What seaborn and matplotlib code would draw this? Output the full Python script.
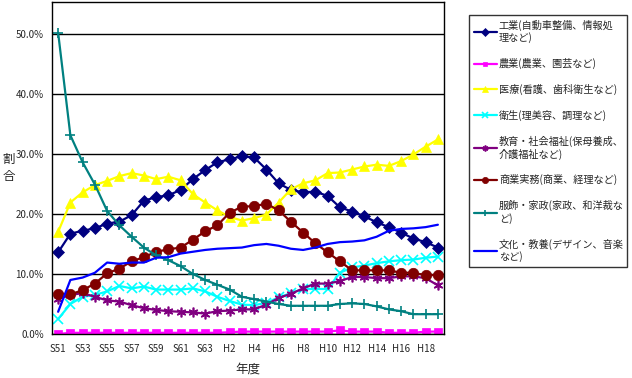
import numpy as np  # Para manejo de arreglos
import pandas as pd  # Para manejo de dataframes
import matplotlib  # Backend sin pantalla
matplotlib.use("Agg")
import matplotlib.pyplot as plt  # Para gráficos
import seaborn as sns  # Para gráficos estadísticos

# ------------------- DATOS (en %) -------------------
categorias = ["S51", "S52", "S53", "S54", "S55", "S56", "S57", "S58", "S59", "S60",
              "S61", "S62", "S63", "H1", "H2", "H3", "H4", "H5", "H6", "H7", "H8",
              "H9", "H10", "H11", "H12", "H13", "H14", "H15", "H16", "H17", "H18", "H19"]

industria = [13.6, 16.7, 17.2, 17.6, 18.4, 18.7, 19.8, 22.2, 22.8, 23.1, 24.0, 25.8,
             27.3, 28.6, 29.1, 29.6, 29.4, 27.4, 25.1, 24.0, 23.6, 23.7, 23.0, 21.1,
             20.4, 19.6, 18.6, 17.8, 16.9, 15.9, 15.3, 14.4]
agricultura = [0.0, 0.2, 0.2, 0.2, 0.2, 0.2, 0.2, 0.2, 0.2, 0.2, 0.2, 0.2, 0.2, 0.2,
               0.3, 0.4, 0.4, 0.4, 0.4, 0.4, 0.4, 0.4, 0.4, 0.6, 0.4, 0.4, 0.4, 0.2,
               0.2, 0.2, 0.4, 0.4]
medicina = [17.0, 21.9, 23.6, 24.8, 25.5, 26.3, 26.8, 26.4, 25.8, 26.2, 25.6, 23.3,
            21.9, 20.6, 19.5, 18.9, 19.3, 19.9, 21.9, 24.1, 25.1, 25.6, 26.8, 26.9,
            27.4, 27.9, 28.2, 28.0, 28.8, 29.9, 31.2, 32.4]
higiene = [2.5, 5.0, 6.2, 6.5, 7.1, 8.0, 7.6, 7.9, 7.4, 7.4, 7.4, 7.6, 7.1, 6.2, 5.5,
           4.9, 4.8, 5.2, 6.1, 6.8, 7.5, 7.5, 7.5, 10.2, 11.1, 11.4, 11.8, 12.1, 12.3,
           12.4, 12.7, 12.9]
educacion = [5.8, 6.5, 6.8, 6.2, 5.6, 5.4, 4.8, 4.3, 4.0, 3.8, 3.7, 3.6, 3.4, 3.8, 3.9,
             4.1, 4.1, 4.9, 6.0, 6.7, 7.6, 8.4, 8.4, 8.8, 9.5, 9.5, 9.3, 9.3, 9.6, 9.6,
             9.3, 8.1]
comercio = [6.7, 6.6, 7.3, 8.4, 10.1, 10.9, 12.1, 12.8, 13.7, 14.1, 14.4, 15.7, 17.1,
            18.1, 20.2, 21.2, 21.3, 21.7, 20.6, 18.7, 16.9, 15.1, 13.6, 12.1, 10.6,
            10.6, 10.6, 10.6, 10.2, 10.2, 9.8, 9.8]
confeccion = [50.2, 33.1, 28.6, 24.9, 20.5, 18.1, 16.2, 14.4, 13.1, 12.3, 11.3, 10.0,
              9.0, 8.2, 7.4, 6.2, 5.8, 5.4, 5.0, 4.7, 4.7, 4.7, 4.7, 5.0, 5.1, 5.0,
              4.6, 4.1, 3.8, 3.3, 3.3, 3.3]
cultura = [3.7, 9.0, 9.4, 10.2, 11.9, 11.7, 11.9, 11.9, 12.7, 12.8, 13.4, 13.7, 14.0,
           14.2, 14.3, 14.4, 14.8, 15.0, 14.7, 14.2, 14.0, 14.4, 15.0, 15.3, 15.4,
           15.6, 16.2, 17.2, 17.5, 17.6, 17.8, 18.2]

nombres_series = ["工業(自動車整備、情報処\n理など)",
                  "農業(農業、園芸など)",
                  "医療(看護、歯科衛生など)",
                  "衛生(理美容、調理など)",
                  "教育・社会福祉(保母養成、\n介護福祉など)",
                  "商業実務(商業、経理など)",
                  "服飾・家政(家政、和洋裁な\nど)",
                  "文化・教養(デザイン、音楽\nなど)"]
titulo_x = "年度"
titulo_y = "割\n合"


def main():
    sns.set_style("white")  # Estilo base
    plt.rcParams['font.family'] = ['Noto Sans CJK JP', 'DejaVu Sans']  # Fuente japonesa

    valores = [industria, agricultura, medicina, higiene, educacion, comercio, confeccion, cultura]
    colores = ["#000080", "#FF00FF", "#FFFF00", "#00FFFF", "#800080", "#800000", "#008080", "#0000FF"]
    marcadores = ["D", "s", "^", "x", (6, 2, 0), "o", "+", None]  # Marcadores tipo Excel
    tamanos = [6.5, 5.5, 7.5, 6.5, 7, 7.5, 7, 0]

    fig = plt.figure(figsize=(6.32, 3.78), dpi=100)  # Figura 632x378
    ax = fig.add_axes([52 / 632, 1 - 334 / 378, 392 / 632, 332 / 378])  # Area de trazado

    x_idx = np.arange(len(categorias))  # Posiciones de categorias
    for nombre, vals, col, mk, ms in zip(nombres_series, valores, colores, marcadores, tamanos):
        df = pd.DataFrame({"x": x_idx, "y": vals})  # Dataframe por serie
        sns.lineplot(data=df, x="x", y="y", ax=ax, color=col, linewidth=1.6,
                     marker=mk, markersize=ms, markeredgecolor=col,
                     markeredgewidth=1.2 if mk in ("x", "+") or isinstance(mk, tuple) else 0.5,
                     label=nombre)

    # --- Ejes ---
    ax.set_xlim(-0.5, len(categorias) - 0.5)
    ax.set_ylim(0, 55.3)
    ax.set_xticks(x_idx[::2])
    ax.set_xticklabels(categorias[::2], fontsize=7)
    ax.set_xticks(np.arange(-0.5, len(categorias)), minor=True)
    ax.tick_params(axis="x", which="major", length=0, pad=7)
    ax.tick_params(axis="x", which="minor", length=3, direction="out", color="black")
    ax.set_yticks(np.arange(0, 51, 10))
    ax.set_yticklabels([f"{v:.1f}%" for v in np.arange(0, 51, 10)], fontsize=7)
    ax.tick_params(axis="y", length=3, direction="out", color="black", pad=3)
    ax.yaxis.grid(True, color="black", linewidth=1)
    ax.xaxis.grid(False)
    for s in ax.spines.values():  # Bordes negros
        s.set_color("black")
        s.set_linewidth(1)
    ax.set_xlabel("")
    ax.set_ylabel("")

    fig.text(9 / 632, 1 - 168 / 378, titulo_y, fontsize=9, ha="center", va="center", linespacing=1.4)
    fig.text(248 / 632, 1 - 369 / 378, titulo_x, fontsize=9, ha="center", va="center")

    # --- Leyenda ---
    handles, labels = ax.get_legend_handles_labels()
    ax.get_legend().remove()
    leg = fig.legend(handles, labels, loc="upper left",
                     bbox_to_anchor=(469 / 632, 1 - 264 / 378, 158 / 632, 249 / 378),
                     mode="expand", borderaxespad=0, fontsize=7.3, frameon=True,
                     fancybox=False, edgecolor="black", handlelength=2.3,
                     handletextpad=0.2, labelspacing=1.45, borderpad=0.45, markerscale=0.6)
    leg.get_frame().set_linewidth(1)

    fig.savefig("out.png", dpi=100)  # Guardar figura


if __name__ == "__main__":
    main()
